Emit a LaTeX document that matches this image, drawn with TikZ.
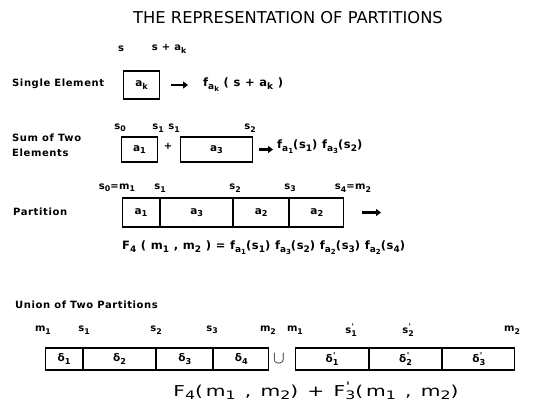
\documentclass[tikz,border=0pt]{standalone}
\usepackage{fontspec}
\setmainfont{DejaVu Sans}
\newfontfamily\labf{DejaVu Sans}[LetterSpace=6]
\newfontfamily\bigf{DejaVu Sans}[LetterSpace=14]
\usetikzlibrary{arrows.meta}
\newcommand{\sbs}[1]{\raisebox{-0.45ex}{\scalebox{0.78}{#1}}}
\newcommand{\prs}[1]{\raisebox{-0.45ex}{\scalebox{0.78}{\rlap{\raisebox{1.5ex}{\kern0.5pt'}}#1}}}
\begin{document}
\begin{tikzpicture}[x=1pt,y=-1pt,
  lab/.style={font=\labf\bfseries\fontsize{10}{11}\selectfont, inner sep=0pt},
  form/.style={font=\labf\bfseries\fontsize{11.5}{12}\selectfont, inner sep=0pt},
  cell/.style={draw, line width=1.1pt, inner sep=0pt, anchor=west, font=\labf\bfseries\fontsize{10.5}{11}\selectfont},
  bigarrow/.style={line width=2.4pt, -{Triangle[length=5pt,width=7pt]}}]
\useasboundingbox (0,0) rectangle (560,402);
\node[font=\fontsize{16.3}{17}\selectfont, inner sep=0pt] (title) at (288,18) {THE REPRESENTATION OF PARTITIONS};
% single element
\node[lab, anchor=west] (se) at (12,84) {Single Element};
\node[cell, minimum width=36pt, minimum height=28pt] (ak) at (123,85) {a\sbs{k}};
\node[lab] (ls) at (121,49) {s};
\node[lab] (lsa) at (169,49) {s + a\sbs{k}};
\node[form, anchor=west] (f1) at (203,85) {f\sbs{a\sbs{k}} ( s + a\sbs{k} )};
\draw[bigarrow, shorten <=11pt, shorten >=15pt] (ak.east) -- (f1.west |- ak.east);
% sum of two
\node[lab, anchor=north west, align=left] (sum) at (12,134) {Sum of Two\\[4pt]Elements};
\node[lab] (l20) at (120,128) {s\sbs{0}};
\node[lab] (l21) at (158,128) {s\sbs{1}};
\node[lab] (l22) at (174,128) {s\sbs{1}};
\node[lab] (l23) at (250,128) {s\sbs{2}};
\node[cell, minimum width=36pt, minimum height=25pt] (b1) at (121,149.5) {a\sbs{1}};
\node[lab] (plus) at (168,146) {+};
\node[cell, minimum width=72pt, minimum height=25pt] (b2) at (180,149.5) {a\sbs{3}};
\node[form, anchor=west] (f2) at (277,147) {f\sbs{a\sbs{1}}(s\sbs{1}) f\sbs{a\sbs{3}}(s\sbs{2})};
\draw[bigarrow, shorten <=6pt, shorten >=4pt] (b2.east) -- (f2.west |- b2.east);
% partition
\node[lab, anchor=west] (part) at (13,212) {Partition};
\node[lab] (p0) at (117,188) {s\sbs{0}=m\sbs{1}};
\node[lab] (p1) at (160,188) {s\sbs{1}};
\node[lab] (p2) at (235,188) {s\sbs{2}};
\node[lab] (p3) at (290,188) {s\sbs{3}};
\node[lab] (p4) at (353,188) {s\sbs{4}=m\sbs{2}};
\node[cell, minimum width=37pt, minimum height=29pt] (c1) at (122,212.5) {a\sbs{1}};
\node[cell, minimum width=72pt, minimum height=29pt] (c2) at (c1.east) {a\sbs{3}};
\node[cell, minimum width=55pt, minimum height=29pt] (c3) at (c2.east) {a\sbs{2}};
\node[cell, minimum width=54pt, minimum height=29pt] (c4) at (c3.east) {a\sbs{2}};
\coordinate (pend) at (381,212.5);
\draw[bigarrow, shorten <=18pt] (c4.east) -- (pend);
\node[form, anchor=west] (f3) at (122,248) {F\sbs{4} ( m\sbs{1} , m\sbs{2} ) = f\sbs{a\sbs{1}}(s\sbs{1}) f\sbs{a\sbs{3}}(s\sbs{2}) f\sbs{a\sbs{2}}(s\sbs{3}) f\sbs{a\sbs{2}}(s\sbs{4})};
% union
\node[lab, anchor=west] (un) at (15,305) {Union of Two Partitions};
\node[lab] (u0) at (43,330) {m\sbs{1}};
\node[lab] (u1) at (84,330) {s\sbs{1}};
\node[lab] (u2) at (156,330) {s\sbs{2}};
\node[lab] (u3) at (212,330) {s\sbs{3}};
\node[lab] (u4) at (268,330) {m\sbs{2}};
\node[lab] (v0) at (295,330) {m\sbs{1}};
\node[lab] (v1) at (351,330) {s\prs{1}};
\node[lab] (v2) at (408,330) {s\prs{2}};
\node[lab] (v3) at (512,330) {m\sbs{2}};
\node[cell, minimum width=37pt, minimum height=22pt] (d1) at (45,359) {δ\sbs{1}};
\node[cell, minimum width=72pt, minimum height=22pt] (d2) at (d1.east) {δ\sbs{2}};
\node[cell, minimum width=56pt, minimum height=22pt] (d3) at (d2.east) {δ\sbs{3}};
\node[cell, minimum width=55pt, minimum height=22pt] (d4) at (d3.east) {δ\sbs{4}};
\node[font=\fontsize{16}{16}\selectfont, inner sep=0pt] (cup) at (279,359) {$\cup$};
\node[cell, minimum width=73pt, minimum height=22pt] (e1) at (295,359) {δ\prs{1}};
\node[cell, minimum width=72pt, minimum height=22pt] (e2) at (e1.east) {δ\prs{2}};
\node[cell, minimum width=72pt, minimum height=22pt] (e3) at (e2.east) {δ\prs{3}};
\node[font=\bigf\fontsize{15}{16}\selectfont, inner sep=0pt] (f4) at (316,391) {\scalebox{1.35}[1]{F\sbs{4}(m\sbs{1} , m\sbs{2}) + F\prs{3}(m\sbs{1} , m\sbs{2})}};
\end{tikzpicture}
\end{document}
